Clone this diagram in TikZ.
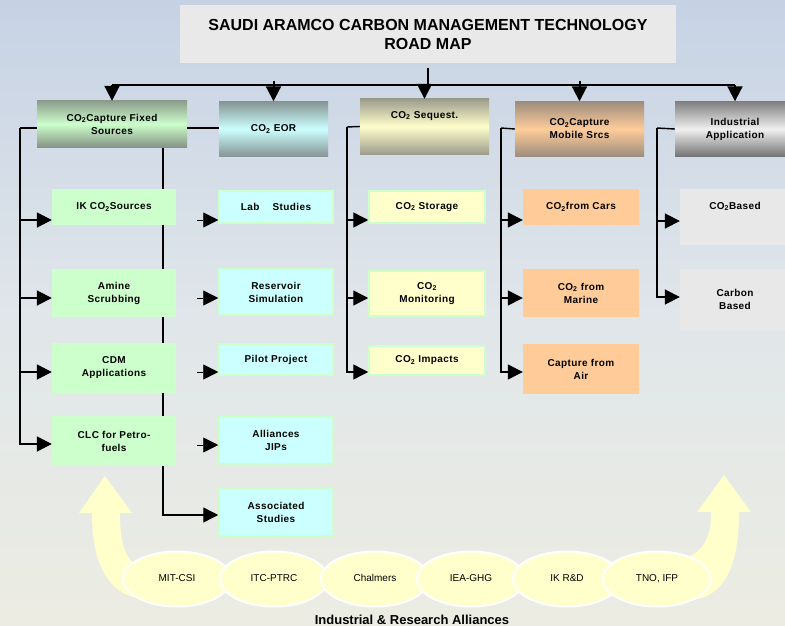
\documentclass[tikz,border=0pt]{standalone}
\usepackage{fontspec}
\setmainfont{Liberation Sans}
\newfontfamily\boxfont{Liberation Sans}[LetterSpace=4]
\usetikzlibrary{arrows.meta,shapes.geometric,backgrounds}
\newcommand{\cotwo}{CO\textsubscript{2}}
\definecolor{bgtop}{RGB}{198,210,228}
\definecolor{bgmid}{RGB}{224,230,234}
\definecolor{bgbot}{RGB}{236,236,226}
\definecolor{titlegray}{RGB}{233,233,233}
\definecolor{palegreen}{RGB}{204,255,204}
\definecolor{palecyan}{RGB}{204,255,255}
\definecolor{paleyellow}{RGB}{255,255,204}
\definecolor{paleorange}{RGB}{255,204,153}
\definecolor{palegray}{RGB}{232,232,232}
\begin{document}
\begin{tikzpicture}[x=1pt,y=-1pt,
    box/.style={rectangle,inner sep=1pt,align=center,
      font=\boxfont\fontsize{10}{13}\selectfont\bfseries},
    headbox/.style={box,minimum height=55pt},
    greenbox/.style={box,fill=palegreen,minimum width=124pt},
    cyanbox/.style={box,fill=palecyan,draw=palegreen,line width=1.5pt,minimum width=114pt},
    yelbox/.style={box,fill=paleyellow,draw=palegreen,line width=1.5pt,minimum width=116pt},
    orbox/.style={box,fill=paleorange,minimum width=116pt},
    graybox/.style={box,fill=palegray,minimum width=110pt},
    ally/.style={ellipse,fill=paleyellow,draw=white,line width=2pt,
      minimum width=108pt,minimum height=55pt,text height=7pt,text depth=2pt,
      font=\fontsize{10}{12}\selectfont},
    arr/.style={line width=1.4pt,-{Triangle[length=15pt,width=15pt]}},
    stem/.style={line width=1.4pt},
    thin/.style={line width=0.8pt,-{Triangle[length=15pt,width=15pt]}}]
  \useasboundingbox (0,0) rectangle (785,626);
  % background
  \begin{pgfonlayer}{background}
    \shade[top color=bgtop,bottom color=bgbot,middle color=bgmid] (0,0) rectangle (785,626);
  \end{pgfonlayer}

  % title
  \node[fill=titlegray,minimum width=496pt,minimum height=58pt,align=center,
    font=\fontsize{16}{19}\selectfont\bfseries] (t) at (428,34)
    {SAUDI ARAMCO CARBON MANAGEMENT TECHNOLOGY\\ROAD MAP};

  % head boxes
  \node[headbox,minimum width=150pt,minimum height=46pt,
    top color=palegreen!45!black!70,bottom color=palegreen!40!black!70,middle color=palegreen] (a) at (112,124)
    {\cotwo Capture Fixed\\Sources};
  \node[headbox,minimum width=109pt,
    top color=palecyan!40!black!70,bottom color=palecyan!40!black!70,middle color=palecyan] (b) at (273.5,129)
    {\cotwo\ EOR};
  \node[headbox,minimum width=129pt,
    top color=paleyellow!45!black!70,bottom color=paleyellow!45!black!70,middle color=paleyellow] (c) at (424.5,126.5)
    {\cotwo\ Sequest.\\[10pt]};
  \node[headbox,minimum width=129pt,
    top color=paleorange!45!black!70,bottom color=paleorange!45!black!70,middle color=paleorange] (d) at (579.5,129)
    {\cotwo Capture\\Mobile Srcs};
  \node[headbox,minimum width=120pt,
    top color=black!50,bottom color=black!55,middle color=black!6] (e) at (735,129)
    {Industrial\\Application};

  % fixed sources
  \node[greenbox,minimum height=36pt] (a1) at (114,207) {IK \cotwo Sources};
  \node[greenbox,minimum height=48pt] (a2) at (114,293) {Amine\\Scrubbing};
  \node[greenbox,minimum height=50pt] (a3) at (114,368) {CDM\\Applications};
  \node[greenbox,minimum height=50pt] (a4) at (114,441) {CLC for Petro-\\fuels};

  % eor
  \node[cyanbox,minimum height=32pt] (b1) at (276,207) {Lab \quad Studies};
  \node[cyanbox,minimum height=46pt] (b2) at (276,292) {Reservoir\\Simulation};
  \node[cyanbox,minimum height=31pt] (b3) at (276,359.5) {Pilot Project};
  \node[cyanbox,minimum height=47pt] (b4) at (276,440.5) {Alliances\\JIPs};
  \node[cyanbox,minimum height=47pt] (b5) at (276,512.5) {Associated\\Studies};

  % sequestration
  \node[yelbox,minimum height=32pt] (c1) at (427,207) {\cotwo\ Storage};
  \node[yelbox,minimum height=45pt] (c2) at (427,293.5) {\cotwo\\Monitoring};
  \node[yelbox,minimum height=29pt] (c3) at (427,360.5) {\cotwo\ Impacts};

  % mobile sources
  \node[orbox,minimum height=36pt] (d1) at (581,207) {\cotwo from Cars};
  \node[orbox,minimum height=48pt] (d2) at (581,293) {\cotwo\ from\\Marine};
  \node[orbox,minimum height=50pt] (d3) at (581,369) {Capture from\\Air};

  % industrial
  \node[graybox,minimum height=56pt] (e1) at (735,217) {\cotwo Based\\[10pt]};
  \node[graybox,minimum height=61pt] (e2) at (735,299.5) {Carbon\\Based};

  % bus
  \coordinate (bus) at (428,85);
  \draw[stem,line width=2pt] ([yshift=-5pt]t.south) -- (t.south |- bus);
  \draw[stem,line width=2pt] (a.north |- bus) -- (e.north |- bus);
  \draw[arr,line width=2pt] (a.north |- bus) -- (a.north);
  \draw[arr,line width=2pt] (b.north |- bus) ++(0,-4) -- (b.north);
  \draw[arr,line width=2pt] (c.north |- bus) -- (c.north);
  \draw[arr,line width=2pt] (d.north |- bus) ++(0,-4) -- (d.north);
  \draw[arr,line width=2pt] (e.north |- bus) -- (e.north);

  % column 1
  \coordinate (k1) at (20,128);
  \coordinate (k2) at (163,147);
  \draw[stem] ([yshift=-4pt]a.west) -- (k1);
  \draw[arr,line width=1.8pt] (k1) |- ([yshift=-13pt]a1.west);
  \draw[arr,line width=1.8pt] (k1) |- ([yshift=-5pt]a2.west);
  \draw[arr,line width=1.8pt] (k1) |- ([yshift=-4pt]a3.west);
  \draw[arr,line width=1.8pt] (k1) |- ([yshift=-3pt]a4.west);
  \draw[stem] ([yshift=-4pt]a.east) -- ([yshift=1pt]b.west);
  \begin{pgfonlayer}{background}
    \draw[arr] (k2) |- ([yshift=-2.5pt]b5.west);
  \end{pgfonlayer}

  % column 2
  \draw[thin] ([xshift=-21pt,yshift=-13pt]b1.west) -- ([yshift=-13pt]b1.west);
  \draw[thin] ([xshift=-21pt,yshift=-6pt]b2.west) -- ([yshift=-6pt]b2.west);
  \draw[thin] ([xshift=-21pt,yshift=-12.5pt]b3.west) -- ([yshift=-12.5pt]b3.west);
  \draw[thin] ([xshift=-21pt,yshift=-4.5pt]b4.west) -- ([yshift=-4.5pt]b4.west);

  % column 3
  \coordinate (k3) at (347,127);
  \draw[stem] (c.west) -- (k3);
  \draw[arr] (k3) |- ([yshift=-13pt]c1.west);
  \draw[arr] (k3) |- ([yshift=-4.5pt]c2.west);
  \draw[arr] (k3) |- ([yshift=-11.5pt]c3.west);

  % column 4
  \coordinate (k4) at (501,128);
  \draw[stem] (d.west) -- (k4);
  \draw[arr] (k4) |- ([yshift=-13pt]d1.west);
  \draw[arr] (k4) |- ([yshift=-5pt]d2.west);
  \draw[arr] (k4) |- ([yshift=-3pt]d3.west);

  % column 5
  \coordinate (k5) at (657,128);
  \draw[stem] (e.west) -- (k5);
  \draw[arr,line width=1.8pt] (k5) |- ([yshift=-4pt]e1.west);
  \draw[arr,line width=1.8pt] (k5) |- ([yshift=2.5pt]e2.west);

  % alliances
  \fill[paleyellow] (150,600) .. controls (108,598) and (92,565) .. (92,513)
    -- (79,513) -- (105,476) -- (132,513) -- (120,513)
    .. controls (120,545) and (126,562) .. (140,566) -- cycle;
  \fill[paleyellow] (690,556) .. controls (707,548) and (711,532) .. (711,512)
    -- (697,512) -- (724,475) -- (751,512) -- (739,512)
    .. controls (739,570) and (722,598) .. (690,600) -- cycle;
  \node[ally] (m1) at (177,579) {MIT-CSI};
  \node[ally] (m2) at (274,579) {ITC-PTRC};
  \node[ally] (m3) at (375,579) {Chalmers};
  \node[ally] (m4) at (471,579) {IEA-GHG};
  \node[ally] (m5) at (567,579) {IK R\&D};
  \node[ally] (m6) at (657,579) {TNO, IFP};
  \node[anchor=base,inner sep=0pt,font=\fontsize{13}{15}\selectfont\bfseries] (lab) at (412,624.5)
    {Industrial \& Research Alliances};
\end{tikzpicture}
\end{document}
